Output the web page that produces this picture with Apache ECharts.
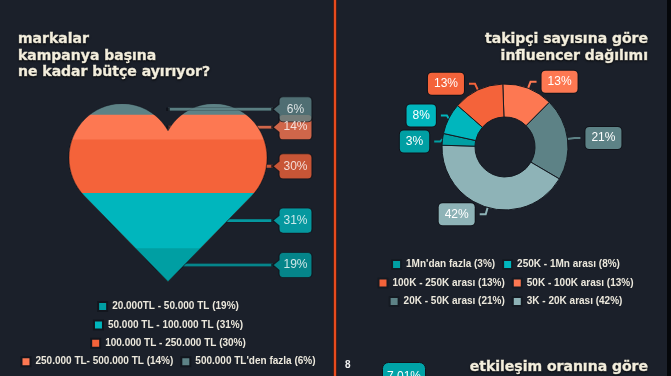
<!DOCTYPE html>
<html>
<head>
<meta charset="utf-8">
<script src="https://cdn.jsdelivr.net/npm/echarts@6/dist/echarts.min.js"></script>
<style>
  html, body { margin: 0; padding: 0; width: 671px; height: 376px; overflow: hidden; background: #1b202a; }
  #left { position: absolute; left: 0; top: 0; width: 336px; height: 376px; }
  #right { position: absolute; left: 337px; top: 0; width: 337px; height: 376px; }
  #divider { position: absolute; left: 334px; top: 0; width: 2px; height: 376px; background: #e94b1d; box-shadow: 0 0 0 1px #4a2019; z-index: 5; }
  #edge { position: absolute; left: 667px; top: 0; width: 4px; height: 376px; background: #05070a; z-index: 5; }
</style>
</head>
<body>
<div id="left"></div>
<div id="divider"></div>
<div id="right"></div>
<div id="edge"></div>
<script>
// butce dagilimi (kalp)
const budgetNames = ['20.000TL - 50.000 TL', '50.000 TL - 100.000 TL', '100.000 TL - 250.000 TL', '250.000 TL- 500.000 TL', "500.000 TL'den fazla"];
const budgetValues = [19, 31, 30, 14, 6];
const budgetColors = ['#009fa3', '#00b6bd', '#f4633a', '#fd7852', '#5d8286'];
const budgetLegendRows = [[0], [1], [2], [3, 4]];

// takipci sayisi (donut)
const followerNames = ['50K - 100K arası', '20K - 50K arası', '3K - 20K arası', "1Mn'dan fazla", '250K - 1Mn arası', '100K - 250K arası'];
const followerValues = [13, 21, 42, 3, 8, 13];
const followerColors = ['#fd7852', '#5d8286', '#8eb3b7', '#009fa3', '#00b6bd', '#f4633a'];
const followerLegendRows = [["1Mn'dan fazla", '250K - 1Mn arası'], ['100K - 250K arası', '50K - 100K arası'], ['20K - 50K arası', '3K - 20K arası']];

const titleFont = 'DejaVu Sans';
const textFont = 'Liberation Sans';
const cream = '#f3eedd';

// kalp: iki daire + iki duz kenar, kubik egrilerle
const heartPath = 'path://M99 26.7C89.6 10.2 72 0 53 0C23.7 0 0 23.7 0 53C0 67.1 5.58 80.54 15.52 90.48L99 174L182.48 90.48C192.42 80.54 198 67.1 198 53C198 23.7 174.3 0 145 0C126 0 108.4 10.2 99 26.7Z';
const calloutPath = 'path://M0 12.5L6 7.5L6 4Q6 0 10 0L35 0Q39 0 39 4L39 21Q39 25 35 25L10 25Q6 25 6 21L6 17.5Z';

function titleStyle() {
  return {
    color: cream, fontFamily: titleFont, fontWeight: 'bold', fontSize: 14, lineHeight: 16.7,
    textBorderColor: cream, textBorderWidth: 0.5,
    textShadowColor: 'rgba(0,0,0,0.7)', textShadowBlur: 2, textShadowOffsetY: 1
  };
}

function legendStyle() {
  return {
    left: 'center', orient: 'horizontal', icon: 'rect', itemWidth: 9, itemHeight: 9, itemGap: 7,
    selectedMode: false, padding: 0,
    textStyle: { color: '#ece8dc', fontSize: 10, fontWeight: 'bold', fontFamily: textFont }
  };
}

// ---------- sol ----------
const cum = [];
let acc = 0;
budgetValues.forEach(v => { acc += v; cum.push(acc); });
const centers = budgetValues.map((v, i) => cum[i] - v / 2);
const last = budgetValues.length - 1;

const leftChart = echarts.init(document.getElementById('left'));
leftChart.setOption({
  backgroundColor: 'transparent',
  animation: false,
  title: [{
    text: 'markalar\nkampanya başına\nne kadar bütçe ayırıyor?',
    left: 18, top: 31, padding: 0,
    textStyle: titleStyle()
  }],
  legend: budgetLegendRows.map((row, r) => Object.assign(legendStyle(), {
    data: row.map(i => budgetNames[i]),
    top: 301 + r * 18.4,
    formatter: name => name + ' (' + budgetValues[budgetNames.indexOf(name)] + '%)'
  })),
  grid: { left: 69, top: 104, width: 198, height: 178 },
  xAxis: { type: 'category', data: ['butce'], show: false },
  yAxis: { type: 'value', min: 0, max: 100, show: false },
  series: [
    {
      type: 'scatter', name: 'leaders', z: 2, silent: true,
      symbol: 'rect', symbolSize: [105, 3], symbolOffset: [52.5, 0],
      itemStyle: { borderColor: '#10131a', borderWidth: 0.6 },
      data: centers.map((c, i) => ({ value: [0, c], itemStyle: { color: budgetColors[i] } }))
    },
    {
      type: 'scatter', name: 'leaderTop', z: 15, silent: true,
      symbol: 'rect', symbolSize: [105, 3], symbolOffset: [52.5, 0],
      itemStyle: { borderColor: '#10131a', borderWidth: 0.6 },
      data: [{ value: [0, centers[last]], itemStyle: { color: budgetColors[last] } }]
    },
    ...budgetNames.map((name, i) => ({
      type: 'pictorialBar', name: name, data: [cum[i]],
      symbol: heartPath, symbolSize: [198, '100%'], symbolBoundingData: 100, symbolClip: true,
      symbolPosition: 'start', barGap: '-100%', barWidth: 198,
      itemStyle: { color: budgetColors[i], borderColor: '#12161e', borderWidth: 1 },
      z: 10 - i, silent: true
    })),
    {
      type: 'scatter', name: 'callouts', z: 16, silent: true,
      symbol: calloutPath, symbolSize: [39, 25], symbolOffset: [124.5, 0],
      itemStyle: { borderColor: '#10131a', borderWidth: 1 },
      data: centers.map((c, i) => ({ value: [0, c], itemStyle: { color: budgetColors[i] } })),
      label: {
        show: true, position: 'inside', offset: [3, 0],
        formatter: p => budgetValues[p.dataIndex] + '%',
        color: '#fff', fontSize: 12, fontFamily: textFont
      }
    }
  ]
});

// ---------- sag ----------
const rightChart = echarts.init(document.getElementById('right'));
rightChart.setOption({
  backgroundColor: 'transparent',
  animation: false,
  title: [
    {
      text: 'takipçi sayısına göre\ninfluencer dağılımı',
      left: 311, textAlign: 'right', top: 31, padding: 0,
      textStyle: titleStyle()
    },
    {
      text: 'etkileşim oranına göre\ninfluencer dağılımı',
      left: 311, textAlign: 'right', top: 359, padding: 0,
      textStyle: titleStyle()
    },
    {
      text: '8', left: 8, top: 360, padding: 0,
      textStyle: { color: '#f2f2f2', fontSize: 10, fontWeight: 'bold', fontFamily: textFont }
    },
    {
      text: '7.01%', left: 45, top: 362, padding: [9, 5, 9, 5],
      backgroundColor: '#00a3a7', borderRadius: 6, borderColor: '#10131a', borderWidth: 1,
      textStyle: { color: '#fff', fontSize: 12, fontWeight: 'normal', fontFamily: textFont }
    }
  ],
  legend: followerLegendRows.map((row, r) => Object.assign(legendStyle(), {
    data: row,
    top: 259 + r * 18.5,
    formatter: name => name + ' (' + followerValues[followerNames.indexOf(name)] + '%)'
  })),
  series: [{
    type: 'pie', center: [168, 147], radius: [30, 63], startAngle: 92, clockwise: true,
    silent: true, avoidLabelOverlap: true,
    itemStyle: { borderColor: '#151a22', borderWidth: 1 },
    label: {
      show: true, formatter: '{c}%', color: '#fff', fontSize: 12, fontFamily: textFont,
      padding: [5, 6], borderRadius: 4, borderColor: '#10131a', borderWidth: 1
    },
    labelLine: { show: true, length: 7, length2: 6, lineStyle: { width: 2 } },
    data: followerNames.map((n, i) => ({
      name: n, value: followerValues[i],
      itemStyle: { color: followerColors[i] },
      label: { backgroundColor: followerColors[i] },
      labelLine: { lineStyle: { color: followerColors[i] } }
    }))
  }]
});
</script>
</body>
</html>
